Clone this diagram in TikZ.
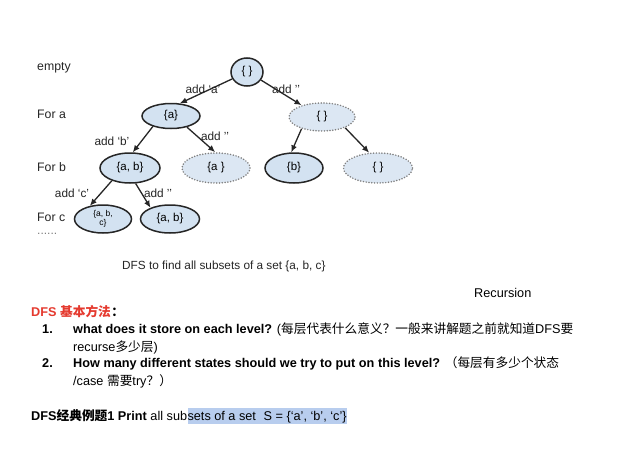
\documentclass[tikz,border=0pt]{standalone}
\usepackage{fontspec}
\setmainfont{Liberation Sans}
\newfontfamily\cjk{Noto Sans CJK SC}
\usepackage{tikz}
\usetikzlibrary{arrows.meta,shapes.geometric}
\definecolor{nodeblue}{HTML}{D3E2F1}
\definecolor{ghostblue}{HTML}{DCE7F3}
\definecolor{inkgray}{HTML}{262626}
\definecolor{dotgray}{HTML}{7F7F7F}
\definecolor{dfsred}{HTML}{E53A2F}
\definecolor{hlblue}{HTML}{B8CDEE}
\newcommand{\zh}[1]{{\cjk #1}}

\begin{document}
\begin{tikzpicture}[
    x=1pt, y=-1pt,
    set/.style={ellipse, draw=inkgray, line width=1.5pt, fill=nodeblue, inner sep=0pt,
                align=center, font=\fontsize{11.5}{12}\selectfont},
    skipset/.style={ellipse, draw=dotgray, line width=1.7pt, dash pattern=on 0pt off 2.8pt,
                    line cap=round, fill=ghostblue, inner sep=0pt, font=\fontsize{11.5}{12}\selectfont},
    level/.style={anchor=west, inner sep=0pt, font=\fontsize{12.3}{14}\selectfont, text=inkgray},
    choice/.style={inner sep=0pt, font=\fontsize{11.8}{13}\selectfont, text=inkgray},
    arrow/.style={-{Latex[length=7pt,width=6pt]}, line width=1.3pt, draw=inkgray},
    body/.style={anchor=base west, inner sep=0pt, font=\fontsize{12.7}{15}\selectfont}
]
    \fill[white] (0,0) rectangle (635,469);
    \useasboundingbox (0,0) rectangle (635,469);

    % levels
    \node[level] (lv0) at (37,68) {empty};
    \node[level] (lv1) at (37,114) {For a};
    \node[level] (lv2) at (37,167) {For b};
    \node[level] (lv3) at (37,217) {For c};
    \node[anchor=base west, inner sep=0pt, text height=2pt, text depth=0pt, text=dotgray,
          font=\fontsize{12}{13}\selectfont] (lv4) at (37,234.5) {......};

    % tree
    \node[set, minimum width=32pt, minimum height=28pt] (root) at (247,72) {\{ \}};
    \node[set, minimum width=58pt, minimum height=25pt] (na) at (171,116) {\{a\}};
    \node[skipset, minimum width=66pt, minimum height=28pt] (ne) at (322,117) {\{ \}};
    \node[set, minimum width=60pt, minimum height=30pt] (nab) at (130,168) {\{a, b\}};
    \node[skipset, minimum width=68pt, minimum height=30pt] (na2) at (216,168) {\{a \}};
    \node[set, minimum width=58pt, minimum height=30pt] (nb) at (294,168) {\{b\}};
    \node[skipset, minimum width=69pt, minimum height=30pt] (ne2) at (378,168) {\{ \}};
    \node[set, minimum width=57pt, minimum height=28pt, font=\fontsize{8.5}{9.5}\selectfont] (nabc) at (103,219) {\{a, b,\\c\}};
    \node[set, minimum width=59pt, minimum height=28pt] (nab2) at (170,219) {\{a, b\}};

    \draw[arrow] (root.205) -- (na.55);
    \draw[arrow] (root.-30) -- (ne.150);
    \draw[arrow] (na.-150) -- (nab.80);
    \draw[arrow] (na.-35) -- (na2.93);
    \draw[arrow] (ne.-150) -- (nb.100);
    \draw[arrow] (ne.-25) -- (ne2.120);
    \draw[arrow] (nab.-145) -- (nabc.135);
    \draw[arrow] (nab.-70) -- (nab2.150);

    \node[choice] (ca) at (203,89) {add ‘a’};
    \node[choice] (cna) at (286,89) {add ’’};
    \node[choice] (cb) at (112,141) {add ‘b’};
    \node[choice] (cnb) at (215,136) {add ’’};
    \node[choice] (cc) at (72,193) {add ‘c’};
    \node[choice] (cnc) at (158,193) {add ’’};

    \node[anchor=base west, inner sep=0pt, text=inkgray, font=\fontsize{11.8}{13}\selectfont] (cap) at (122,269) {DFS to find all subsets of a set \{a, b, c\}};
    \node[body] (rec) at (474,297.5) {Recursion};

    % notes
    \node[body, text=dfsred, font=\fontsize{12.7}{15}\selectfont\bfseries] (head) at (31,316.5) {DFS \zh{\bfseries 基本方法}};
    \node[body] (headc) at (head.base east) {\zh{\bfseries ：}};
    \node[body, font=\fontsize{12.7}{15}\selectfont\bfseries] (n1) at (42,333.5) {1.};
    \node[body] (i1) at (73,333.5) {\textbf{what does it store on each level?} (\zh{每层代表什么意义？一般来讲解题之前就知道}DFS\zh{要}};
    \node[body] (i1b) at (73,351.5) {recurse\zh{多少层})};
    \node[body, font=\fontsize{12.7}{15}\selectfont\bfseries] (n2) at (42,367.5) {2.};
    \node[body] (i2) at (73,367.5) {\textbf{How many different states should we try to put on this level?} \zh{（每层有多少个状态}};
    \node[body] (i2b) at (73,385.5) {/case \zh{需要}try\zh{？）}};
    \node[body] (ex) at (31,420.5) {\textbf{DFS\zh{\bfseries 经典例题}1 Print} all sub};
    \node[body, fill=hlblue, text height=13pt, text depth=3.5pt] (exhl) at (ex.base east) {sets of a set\hspace{0.6em}S = \{‘a’, ‘b’, ‘c’\}};
\end{tikzpicture}
\end{document}
